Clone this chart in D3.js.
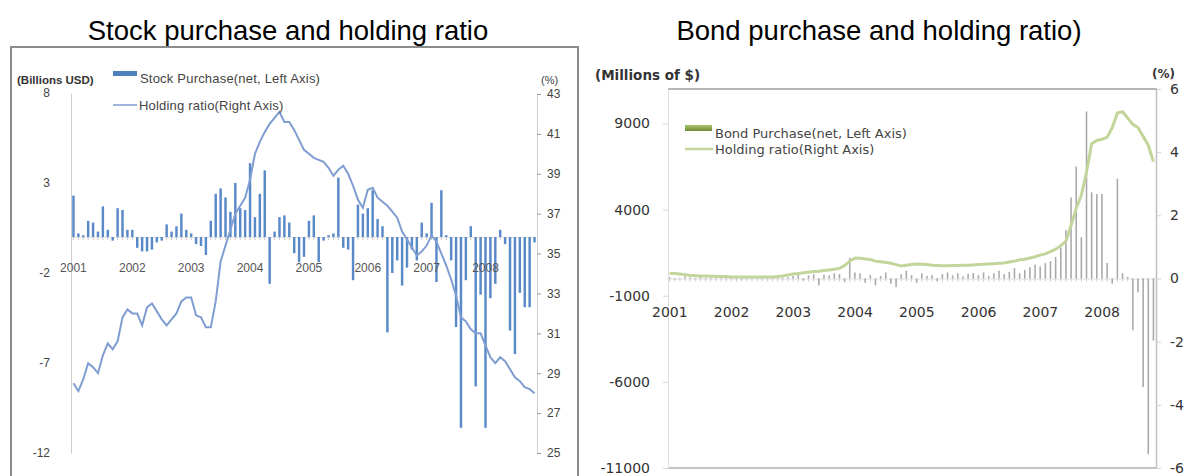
<!DOCTYPE html>
<html>
<head>
<meta charset="utf-8">
<script src="https://d3js.org/d3.v7.min.js"></script>
<style>
body { margin: 0; background: #fff; }
</style>
</head>
<body>
<script>
// ---- data ----
var years = ["2001", "2002", "2003", "2004", "2005", "2006", "2007", "2008"];
var months = [];
years.forEach(function(y) {
  for (var m = 1; m <= 12; m++) months.push(y + "-" + (m < 10 ? "0" + m : m));
});
months = months.slice(0, 95); // Jan 2001 .. Nov 2008

// stock: net purchase (billions USD) and holding ratio (%)
var stockPurchase = [
  2.3, 0.2, 0.1, 0.9, 0.8, 0.3, 1.7, 0.4, -0.2, 1.6,
  1.5, 0.4, 0.4, -0.6, -0.8, -0.8, -0.7, -0.3, -0.2, 0.7,
  0.3, 0.6, 1.3, 0.4, 0.2, -0.4, -0.5, -1.0, 0.9, 2.4,
  2.7, 2.2, 1.4, 3.0, 1.6, 1.5, 4.1, 1.1, 2.4, 3.7,
  -2.6, 0.3, 1.1, 1.2, 0.8, -0.9, -1.4, -1.1, 0.9, 1.2,
  -1.4, -0.2, 0.1, 0.2, 3.3, -0.6, -0.7, -2.4, 1.8, 1.3,
  1.6, 2.6, 1.0, 0.6, -5.3, -2.0, -1.3, -2.7, -1.7, -0.7,
  -1.3, 0.8, 0.2, 1.9, -2.5, 2.6, 0.1, -1.3, -5.0, -10.6,
  -2.4, 0.6, -8.3, -3.2, -10.6, -3.4, -2.6, 0.4, -0.4, -5.2,
  -6.5, -3.1, -3.9, -3.9, -0.3
];
var stockRatio = [
  28.5, 28.1, 28.7, 29.5, 29.3, 29.0, 29.9, 30.5, 30.2, 30.6,
  31.8, 32.2, 32.0, 32.0, 31.4, 32.3, 32.5, 32.1, 31.7, 31.4,
  31.7, 32.0, 32.6, 32.8, 32.8, 31.9, 31.8, 31.3, 31.3, 32.6,
  34.6, 35.4, 36.2, 37.0, 37.4, 37.8, 38.7, 40.0, 40.6, 41.1,
  41.5, 41.8, 42.1, 41.6, 41.6, 41.2, 40.7, 40.2, 40.0, 39.8,
  39.7, 39.6, 39.3, 38.9, 39.2, 39.4, 39.0, 38.4, 37.7, 37.3,
  38.2, 38.3, 37.8, 37.6, 37.4, 37.1, 36.8, 36.1, 35.7, 35.3,
  34.9, 35.1, 35.4, 35.9, 35.6, 35.0, 34.4, 33.7, 32.9, 31.8,
  31.6, 31.2, 31.0, 31.0, 30.4, 29.8, 29.5, 29.8, 29.6, 29.2,
  28.8, 28.6, 28.3, 28.2, 28.0
];
var stockLeftTicks = [-12, -7, -2, 3, 8];
var stockRightTicks = [25, 27, 29, 31, 33, 35, 37, 39, 41, 43];

// bond: net purchase (millions of $) and holding ratio (%)
var bondPurchase = [
  80, -60, 50, 120, 70, -40, 90, 60, -30, 110, 50, 80,
  60, 90, -50, 80, 40, 70, -30, 50, 90, 60, 40, 80,
  150, 200, -120, 180, 250, -400, 220, 180, 300, 260, -200, 1200,
  350, 300, -250, 200, -400, 150, 350, -300, -500, 250, 450, 200,
  -250, 300, 150, 200, -150, 250, 350, 180, 300, 120, 260, 320,
  200, 350, 150, 300, 450, 250, 380, 600, 300, 500, 650,
  800, 700, 900, 1000, 1250, 1800, 2800, 4700, 6500, 2400, 9700, 5000,
  4900, 4900, 900, -300, 5800, 300, 100, -3000, -800, -6300, -10200, -3600
];
var bondRatio = [
  0.17, 0.16, 0.14, 0.12, 0.10, 0.09, 0.08, 0.08, 0.07, 0.07,
  0.06, 0.06, 0.05, 0.05, 0.05, 0.05, 0.05, 0.05, 0.05, 0.05,
  0.05, 0.06, 0.08, 0.11, 0.14, 0.16, 0.18, 0.20, 0.22, 0.23,
  0.25, 0.27, 0.29, 0.32, 0.41, 0.55, 0.65, 0.64, 0.62, 0.60,
  0.55, 0.53, 0.51, 0.48, 0.44, 0.40, 0.42, 0.44, 0.46, 0.45,
  0.44, 0.42, 0.41, 0.40, 0.40, 0.41, 0.41, 0.42, 0.42, 0.43,
  0.44, 0.45, 0.46, 0.47, 0.48, 0.49, 0.52, 0.55, 0.59, 0.61,
  0.65, 0.69, 0.74, 0.78, 0.85, 0.93, 1.04, 1.18, 1.68, 2.22,
  2.64, 3.37, 4.27, 4.37, 4.41, 4.47, 4.78, 5.24, 5.28, 5.08,
  4.88, 4.78, 4.50, 4.22, 3.70
];
var bondLeftTicks = [-11000, -6000, -1000, 4000, 9000];
var bondRightTicks = [-6, -4, -2, 0, 2, 4, 6];

var sans = '"Liberation Sans", Arial, sans-serif';
var dvs = '"DejaVu Sans", Verdana, sans-serif';
var plain = function(d) { return String(d); }; // hyphen minus, no thousands comma

var svg = d3.select('body').append('svg')
  .attr('width', 1189)
  .attr('height', 476);

// titles
svg.append('text')
  .attr('x', 288).attr('y', 40)
  .attr('text-anchor', 'middle')
  .style('font', '27.5px ' + sans)
  .text('Stock purchase and holding ratio');

svg.append('text')
  .attr('x', 879).attr('y', 40)
  .attr('text-anchor', 'middle')
  .style('font', '27.5px ' + sans)
  .text('Bond purchase and holding ratio)');

// left panel frame
svg.append('path')
  .attr('d', 'M11,478V47H578V478')
  .attr('fill', 'none')
  .attr('stroke', '#8c8c8c')
  .attr('stroke-width', 2);

// ================= left chart =================
var x1 = d3.scaleBand().domain(months).range([71, 537]).paddingInner(0.5).paddingOuter(0.25);
var y1 = d3.scaleLinear().domain([-12, 8]).range([453, 93]);
var y1r = d3.scaleLinear().domain([25, 43]).range([453, 94]);

var g1 = svg.append('g');

// month ticks along zero line
var xa1 = g1.append('g')
  .attr('transform', 'translate(0,' + y1(0) + ')')
  .call(d3.axisBottom(x1).tickFormat('').tickSize(3).tickSizeOuter(0));
xa1.select('.domain').attr('stroke', '#e4e4e4');
xa1.selectAll('.tick line').attr('stroke', '#c8c8c8');

g1.selectAll('rect.sbar')
  .data(stockPurchase)
  .enter().append('rect')
  .attr('class', 'sbar')
  .attr('x', function(d, i) { return x1(months[i]); })
  .attr('width', x1.bandwidth())
  .attr('y', function(d) { return y1(Math.max(0, d)); })
  .attr('height', function(d) { return Math.abs(y1(d) - y1(0)); })
  .attr('fill', '#5a89c8');

// left axis
var ya1 = g1.append('g')
  .attr('transform', 'translate(71,0)')
  .call(d3.axisLeft(y1).tickValues(stockLeftTicks).tickFormat(plain).tickSize(0).tickPadding(21).tickSizeOuter(0));
ya1.select('.domain').attr('stroke', '#cfcfcf');
ya1.selectAll('text').style('font', '12px ' + sans).attr('fill', '#444');

// right axis
var yr1 = g1.append('g')
  .attr('transform', 'translate(537,0)')
  .call(d3.axisRight(y1r).tickValues(stockRightTicks).tickFormat(plain).tickSize(4).tickPadding(6).tickSizeOuter(0));
yr1.select('.domain').attr('stroke', '#cfcfcf');
yr1.selectAll('.tick line').attr('stroke', '#999');
yr1.selectAll('text').style('font', '12px ' + sans).attr('fill', '#444');

// holding ratio line
var line1 = d3.line()
  .x(function(d, i) { return x1(months[i]) + x1.bandwidth() / 2; })
  .y(function(d) { return y1r(d); });

g1.append('path')
  .datum(stockRatio)
  .attr('d', line1)
  .attr('fill', 'none')
  .attr('stroke', '#7f9dd1')
  .attr('stroke-width', 2);

// year labels
g1.selectAll('text.yr')
  .data(years)
  .enter().append('text')
  .attr('class', 'yr')
  .attr('x', function(d) { return x1(d + '-01') + x1.bandwidth() / 2; })
  .attr('y', 272)
  .attr('text-anchor', 'middle')
  .style('font', '12px ' + sans)
  .attr('fill', '#555')
  .text(function(d) { return d; });

// units
g1.append('text').attr('x', 17).attr('y', 84)
  .style('font', 'bold 11.5px ' + sans).attr('fill', '#333')
  .text('(Billions USD)');
g1.append('text').attr('x', 541).attr('y', 84)
  .style('font', '11px ' + sans).attr('fill', '#444')
  .text('(%)');

// legend
g1.append('rect').attr('x', 113).attr('y', 71).attr('width', 24).attr('height', 5).attr('fill', '#4f7fbd');
g1.append('text').attr('x', 140).attr('y', 83)
  .style('font', '13px ' + sans).style('letter-spacing', '0.2px').attr('fill', '#444')
  .text('Stock Purchase(net, Left Axis)');
g1.append('line').attr('x1', 113).attr('x2', 137).attr('y1', 105).attr('y2', 105)
  .attr('stroke', '#7f9dd1').attr('stroke-width', 1.5);
g1.append('text').attr('x', 139).attr('y', 110)
  .style('font', '13px ' + sans).style('letter-spacing', '0.2px').attr('fill', '#444')
  .text('Holding ratio(Right Axis)');

// ================= right chart =================
svg.append('line')
  .attr('x1', 578).attr('x2', 578).attr('y1', 47).attr('y2', 478)
  .attr('stroke', '#8c8c8c').attr('stroke-width', 2);

var x2 = d3.scaleBand().domain(months).range([667, 1156]).paddingInner(0.7).paddingOuter(0.35);
var y2 = d3.scaleLinear().domain([-11000, 11000]).range([468, 89]);
var y2r = d3.scaleLinear().domain([-6, 6]).range([468, 89]);

var g2 = svg.append('g');

// plot frame top / bottom
g2.append('line').attr('x1', 668).attr('x2', 1157).attr('y1', 89).attr('y2', 89)
  .attr('stroke', '#b5b5b5').attr('stroke-width', 2);
g2.append('line').attr('x1', 668).attr('x2', 1157).attr('y1', 468).attr('y2', 468)
  .attr('stroke', '#c4c4c4').attr('stroke-width', 2);

var xa2 = g2.append('g')
  .attr('transform', 'translate(0,' + y2(0) + ')')
  .call(d3.axisBottom(x2).tickFormat('').tickSize(3).tickSizeOuter(0));
xa2.select('.domain').attr('stroke', '#e2e2e2');
xa2.selectAll('.tick line').attr('stroke', '#cfcfcf');

g2.selectAll('rect.bbar')
  .data(bondPurchase)
  .enter().append('rect')
  .attr('class', 'bbar')
  .attr('x', function(d, i) { return x2(months[i]); })
  .attr('width', x2.bandwidth())
  .attr('y', function(d) { return y2(Math.max(0, d)); })
  .attr('height', function(d) { return Math.abs(y2(d) - y2(0)); })
  .attr('fill', '#a8a8a8');

var ya2 = g2.append('g')
  .attr('transform', 'translate(668,0)')
  .call(d3.axisLeft(y2).tickValues(bondLeftTicks).tickFormat(plain).tickSize(5).tickPadding(13).tickSizeOuter(0));
ya2.select('.domain').attr('stroke', '#dedede');
ya2.selectAll('.tick line').attr('stroke', '#d8d8d8');
ya2.selectAll('text').style('font', '14px ' + dvs).attr('fill', '#333');

var yr2 = g2.append('g')
  .attr('transform', 'translate(1156,0)')
  .call(d3.axisRight(y2r).tickValues(bondRightTicks).tickFormat(plain).tickSize(5).tickPadding(9).tickSizeOuter(0));
yr2.select('.domain').attr('stroke', '#c0c0c0').attr('stroke-width', 1.5);
yr2.selectAll('.tick line').attr('stroke', '#d0d0d0');
yr2.selectAll('text').style('font', '14px ' + dvs).attr('fill', '#333');

var line2 = d3.line()
  .x(function(d, i) { return x2(months[i]) + x2.bandwidth() / 2; })
  .y(function(d) { return y2r(d); });

g2.append('path')
  .datum(bondRatio)
  .attr('d', line2)
  .attr('fill', 'none')
  .attr('stroke', '#c2d59a')
  .attr('stroke-width', 3);

g2.selectAll('text.yr')
  .data(years)
  .enter().append('text')
  .attr('class', 'yr')
  .attr('x', function(d) { return x2(d + '-01') + 1; })
  .attr('y', 317)
  .attr('text-anchor', 'middle')
  .style('font', '14px ' + dvs)
  .attr('fill', '#333')
  .text(function(d) { return d; });

g2.append('text').attr('x', 595).attr('y', 80)
  .style('font', 'bold 13.5px ' + dvs).attr('fill', '#333')
  .text('(Millions of $)');
g2.append('text').attr('x', 1152).attr('y', 78)
  .style('font', 'bold 12px ' + dvs).attr('fill', '#333')
  .text('(%)');

// legend
var grad = svg.append('defs').append('linearGradient')
  .attr('id', 'gBond').attr('x1', 0).attr('y1', 0).attr('x2', 0).attr('y2', 1);
grad.append('stop').attr('offset', '0%').attr('stop-color', '#a9c66a');
grad.append('stop').attr('offset', '100%').attr('stop-color', '#6f8a33');

g2.append('rect').attr('x', 685).attr('y', 125).attr('width', 27).attr('height', 6)
  .attr('fill', 'url(#gBond)');
g2.append('text').attr('x', 715).attr('y', 138)
  .style('font', '13px ' + dvs).attr('fill', '#444')
  .text('Bond Purchase(net, Left Axis)');
g2.append('line').attr('x1', 685).attr('x2', 713).attr('y1', 149).attr('y2', 149)
  .attr('stroke', '#c2d59a').attr('stroke-width', 2.5);
g2.append('text').attr('x', 715).attr('y', 154)
  .style('font', '13px ' + dvs).attr('fill', '#444')
  .text('Holding ratio(Right Axis)');
</script>
</body>
</html>
